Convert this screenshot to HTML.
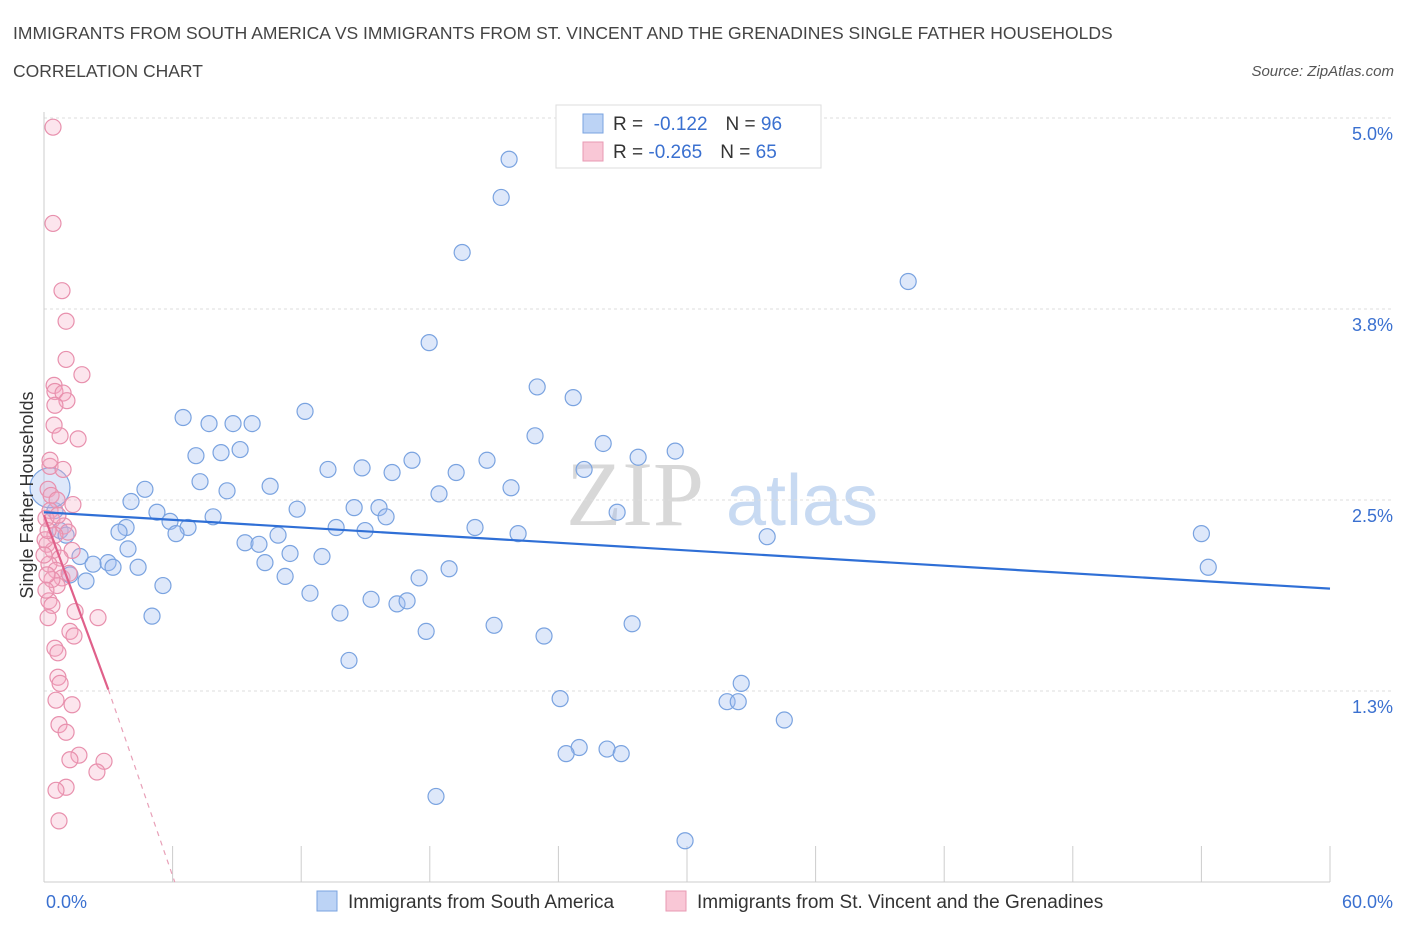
<!DOCTYPE html>
<html><head><meta charset="utf-8">
<style>
body{margin:0;background:#fff;font-family:"Liberation Sans",sans-serif;}
svg{display:block}
</style></head>
<body>
<svg id="chart" width="1406" height="930" xmlns="http://www.w3.org/2000/svg" font-family="Liberation Sans, sans-serif">
<text x="13" y="39" font-size="17.5" fill="#444">IMMIGRANTS FROM SOUTH AMERICA VS IMMIGRANTS FROM ST. VINCENT AND THE GRENADINES SINGLE FATHER HOUSEHOLDS</text>
<text x="13" y="77" font-size="17.5" fill="#444">CORRELATION CHART</text>
<text x="1394" y="76" font-size="15" fill="#555" text-anchor="end" font-style="italic">Source: ZipAtlas.com</text>
<g>
<text x="635" y="525" font-size="92" fill="#d8d8d8" text-anchor="middle" font-family="Liberation Serif, serif">ZIP</text>
<text x="802" y="525" font-size="72" fill="#c8daf2" text-anchor="middle">atlas</text>
</g>
<g id="grid"></g>
<g id="axes"></g>
<g id="pts"></g>
<g id="lines"></g>
<g>
<rect x="556" y="105" width="265" height="63" fill="#fff" stroke="#ddd"/>
<rect x="583" y="114" width="20" height="19" fill="#bcd3f5" stroke="#7aa3e0"/>
<rect x="583" y="142" width="20" height="19" fill="#f9c7d6" stroke="#e89ab3"/>
<text x="613" y="130" font-size="19" fill="#333">R = <tspan fill="#3a70d0">&#160;-0.122</tspan><tspan fill="#333" dx="18">N = </tspan><tspan fill="#3a70d0">96</tspan></text>
<text x="613" y="158" font-size="19" fill="#333">R = <tspan fill="#3a70d0">-0.265</tspan><tspan fill="#333" dx="18">N = </tspan><tspan fill="#3a70d0">65</tspan></text>
</g>
<g>
<rect x="317" y="891" width="20" height="20" fill="#bcd3f5" stroke="#7aa3e0"/>
<text x="348" y="908" font-size="19" fill="#333">Immigrants from South America</text>
<rect x="666" y="891" width="20" height="20" fill="#f9c7d6" stroke="#e89ab3"/>
<text x="697" y="908" font-size="19" fill="#333">Immigrants from St. Vincent and the Grenadines</text>
</g>
<text transform="translate(33,495) rotate(-90)" font-size="18" fill="#333" text-anchor="middle">Single Father Households</text>
</svg>
<script>
const blueX=[21.70,21.33,19.51,40.32,17.97,23.01,24.69,12.18,6.49,7.70,8.82,9.71,22.91,26.09,9.15,7.09,8.26,29.45,27.72,17.17,20.67,13.25,14.84,16.24,19.23,25.20,7.28,4.71,10.55,8.54,4.06,18.43,21.79,11.81,14.47,15.63,15.96,5.27,7.89,26.74,5.88,6.72,3.83,3.50,6.16,13.63,14.98,20.11,22.12,33.74,54.00,10.92,9.38,10.03,11.48,3.92,12.97,1.68,10.31,2.29,2.99,3.22,4.39,18.90,54.32,1.21,1.96,11.25,17.50,5.55,12.41,15.26,16.47,16.94,13.81,5.04,17.83,21.00,23.33,27.44,14.23,24.08,32.53,31.87,32.39,34.54,24.97,24.36,26.27,26.93,18.29,29.91,0.75,1.03,0.51];
const blueY=[4.73,4.48,4.12,3.93,3.53,3.24,3.17,3.08,3.04,3.00,3.00,3.00,2.92,2.87,2.83,2.79,2.81,2.82,2.78,2.76,2.76,2.70,2.71,2.68,2.68,2.70,2.62,2.57,2.59,2.56,2.49,2.54,2.58,2.44,2.45,2.45,2.39,2.42,2.39,2.42,2.36,2.32,2.32,2.29,2.28,2.32,2.30,2.32,2.28,2.26,2.28,2.27,2.22,2.21,2.15,2.18,2.13,2.13,2.09,2.08,2.09,2.06,2.06,2.05,2.06,2.01,1.97,2.00,1.99,1.94,1.89,1.85,1.82,1.84,1.76,1.74,1.64,1.68,1.61,1.69,1.45,1.20,1.30,1.18,1.18,1.06,0.88,0.84,0.87,0.84,0.56,0.27,2.30,2.27,2.43];
const pinkX=[0.42,0.42,0.84,1.03,1.03,1.77,0.47,0.51,0.89,1.07,0.51,0.47,0.75,1.59,0.28,0.19,0.33,0.61,1.35,0.28,0.37,0.09,0.93,1.12,0.51,0.14,0.42,1.31,0.75,0.23,0.56,0.84,0.61,0.23,0.37,1.45,2.52,0.19,1.21,1.40,0.51,0.65,0.65,0.75,0.56,1.31,0.70,1.03,1.63,1.21,2.80,2.47,1.03,0.56,0.70,0.37,0.09,0.28,0.89,0.05,0.19,0.65,1.17,0,0.14];
const pinkY=[4.94,4.31,3.87,3.67,3.42,3.32,3.25,3.21,3.20,3.15,3.12,2.99,2.92,2.90,2.72,2.57,2.53,2.50,2.47,2.43,2.37,2.38,2.33,2.29,2.27,2.21,2.17,2.17,2.12,2.08,2.04,1.99,1.94,1.84,1.81,1.77,1.73,1.73,1.64,1.61,1.53,1.50,1.34,1.30,1.19,1.16,1.03,0.98,0.83,0.80,0.79,0.72,0.62,0.60,0.40,1.98,1.91,2.76,2.70,2.24,2.30,2.40,2.02,2.14,2.01];
const bigBlue=[0.28,2.58];
const blueTrend=[[0,2.42],[60,1.92]];
const pinkTrendSolid=[[0,2.40],[3,1.26]];
const pinkTrendDash=[[3,1.26],[6.1,0]];
const yTicks=[1.25,2.5,3.75,5.0];
const yTickLabels=["1.3%","2.5%","3.8%","5.0%"];
const xTicks=[0,6,12,18,24,30,36,42,48,54,60];

const NS="http://www.w3.org/2000/svg";
const X0=44,X1=1330,Y0=882,PY=152.8;
const sx=v=>X0+(X1-X0)*v/60;
const sy=v=>Y0-v*PY;
function mk(tag,attrs,parent){const e=document.createElementNS(NS,tag);for(const k in attrs)e.setAttribute(k,attrs[k]);parent.appendChild(e);return e;}
const grid=document.getElementById('grid'),axes=document.getElementById('axes'),pts=document.getElementById('pts'),lines=document.getElementById('lines');
yTicks.forEach((t,i)=>{
  const l=mk('line',{x1:X0,x2:X1+62,y1:sy(t),y2:sy(t),stroke:'#ddd','stroke-dasharray':'3,3'},grid);
  
  
  const tx=mk('text',{x:1393,y:sy(t)+22,'font-size':18,fill:'#3a70d0','text-anchor':'end'},axes);
  tx.textContent=yTickLabels[i];
  
  
});
const ax=mk('line',{x1:X0,x2:X1,y1:Y0,y2:Y0,stroke:'#ccc'},axes);


const ay=mk('line',{x1:X0,x2:X0,y1:112,y2:Y0,stroke:'#ccc'},axes);


xTicks.forEach(t=>{
  const l=mk('line',{x1:sx(t),x2:sx(t),y1:Y0-36,y2:Y0,stroke:'#ccc'},axes);
  
  
});
const xl0=mk('text',{x:46,y:908,'font-size':18,fill:'#3a70d0'},axes);xl0.textContent='0.0%';


const xl1=mk('text',{x:1393,y:908,'font-size':18,fill:'#3a70d0','text-anchor':'end'},axes);xl1.textContent='60.0%';



blueX.forEach((v,i)=>{
  const c=mk('circle',{cx:sx(v),cy:sy(blueY[i]),r:8,fill:'rgba(160,190,240,0.35)',stroke:'#7aa3e0','stroke-width':1.2},pts);
  
  
});
const bb=mk('circle',{cx:sx(bigBlue[0]),cy:sy(bigBlue[1]),r:20,fill:'rgba(160,190,240,0.35)',stroke:'#7aa3e0','stroke-width':1.2},pts);


pinkX.forEach((v,i)=>{
  const c=mk('circle',{cx:sx(v),cy:sy(pinkY[i]),r:8,fill:'rgba(245,170,195,0.3)',stroke:'#e890ad','stroke-width':1.2},pts);
  
  
});
const bl=mk('line',{x1:sx(blueTrend[0][0]),y1:sy(blueTrend[0][1]),x2:sx(blueTrend[1][0]),y2:sy(blueTrend[1][1]),stroke:'#2f6fd6','stroke-width':2.2},lines);


const pl=mk('line',{x1:sx(pinkTrendSolid[0][0]),y1:sy(pinkTrendSolid[0][1]),x2:sx(pinkTrendSolid[1][0]),y2:sy(pinkTrendSolid[1][1]),stroke:'#e0608a','stroke-width':2.2},lines);


const pd=mk('line',{x1:sx(pinkTrendDash[0][0]),y1:sy(pinkTrendDash[0][1]),x2:sx(pinkTrendDash[1][0]),y2:sy(pinkTrendDash[1][1]),stroke:'#e8a0b8','stroke-width':1.2,'stroke-dasharray':'5,5'},lines);


</script>
</body></html>
